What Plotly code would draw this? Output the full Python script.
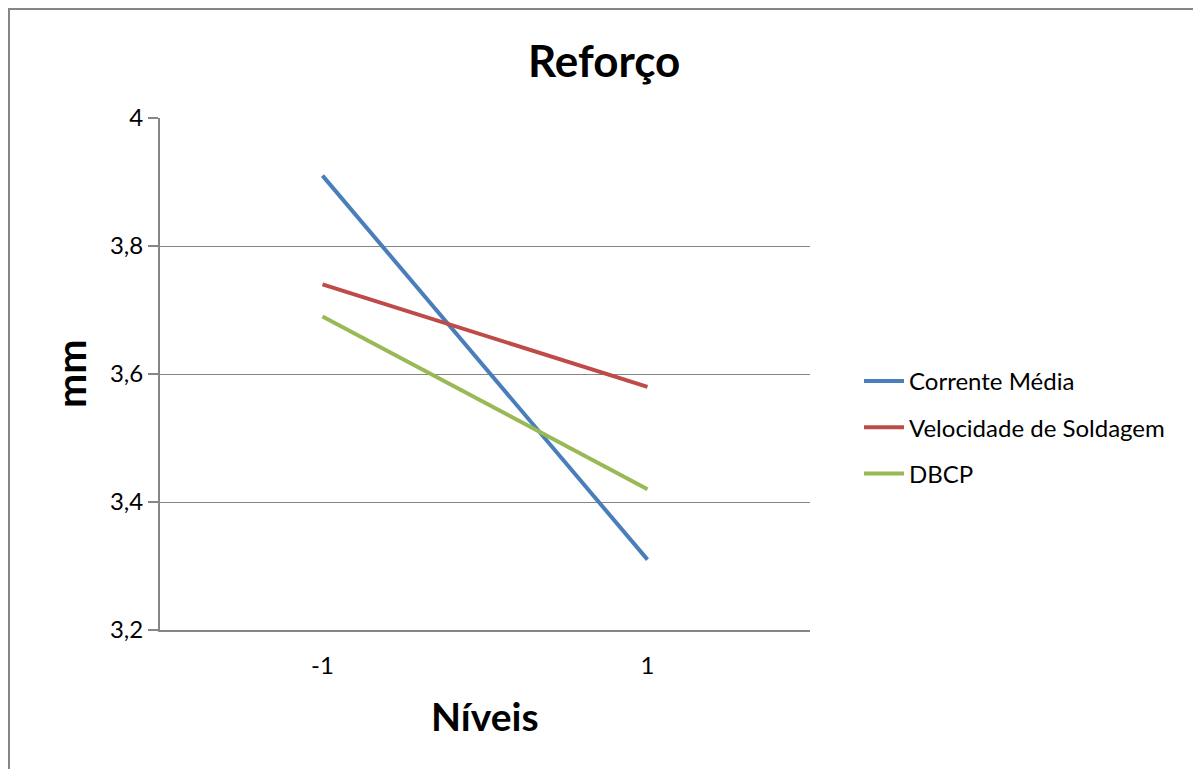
import plotly.graph_objects as go

categories = ["-1", "1"]
corrente_media = [3.91, 3.31]
velocidade_soldagem = [3.74, 3.58]
dbcp = [3.69, 3.42]
series_names = ["Corrente Média", "Velocidade de Soldagem", "DBCP"]
colors = ["#4A7EBB", "#BE4B48", "#98B954"]
y_ticks = [3.2, 3.4, 3.6, 3.8, 4.0]

FONT = "Lato, Open Sans, sans-serif"

fig = go.Figure()
for i, (name, vals) in enumerate(zip(series_names, [corrente_media, velocidade_soldagem, dbcp])):
    fig.add_trace(go.Scatter(
        x=categories, y=vals, mode="lines", name=name,
        line=dict(color=colors[i], width=4),
        legendgroup=f"g{i}",
    ))

# page body has an 8px margin; work in reference pixel coords and shift
OFF = 8
W, H = 1201 - OFF, 769 - OFF
PL, PR, PT, PB = 160 - OFF, 810 - OFF, 118 - OFF, 630 - OFF
L, R, T, B = PL, W - PR, PT, H - PB
pw, ph = PR - PL, PB - PT

def px_x(px):
    return (px - OFF - PL) / pw

def px_y(py):
    return (PB - (py - OFF)) / ph

fig.update_layout(
    width=W, height=H,
    margin=dict(l=L, r=R, t=T, b=B),
    paper_bgcolor="white", plot_bgcolor="white",
    separators=", ",
    font=dict(family=FONT, size=24, color="black"),
    showlegend=True,
    legend=dict(
        x=px_x(859), y=px_y(359), xanchor="left", yanchor="top",
        font=dict(family=FONT, size=24, color="black"),
        tracegroupgap=12, itemwidth=40,
        bgcolor="rgba(0,0,0,0)",
    ),
    xaxis=dict(
        type="category", range=[-0.5, 1.5],
        showgrid=False, showline=True, linecolor="#868686", linewidth=2,
        ticks="", tickfont=dict(family=FONT, size=24, color="black"),
        ticklabelstandoff=13,
        zeroline=False,
    ),
    yaxis=dict(
        range=[3.2, 4.0], tickvals=y_ticks,
        showgrid=True, gridcolor="#868686", gridwidth=1,
        showline=True, linecolor="#868686", linewidth=2,
        ticks="outside", ticklen=10, tickcolor="#868686", tickwidth=2,
        tickfont=dict(family=FONT, size=24, color="black"),
        zeroline=False,
    ),
    annotations=[
        dict(text="<b>Reforço</b>", x=px_x(604), y=px_y(60), xref="paper", yref="paper",
             xanchor="center", yanchor="middle",
             showarrow=False, font=dict(family=FONT, size=44, color="black")),
        dict(text="<b>Níveis</b>", x=px_x(485), y=px_y(716), xref="paper", yref="paper",
             xanchor="center", yanchor="middle",
             showarrow=False, font=dict(family=FONT, size=39, color="black")),
        dict(text="<b>mm</b>", x=px_x(70), y=px_y(374), xref="paper", yref="paper",
             xanchor="center", yanchor="middle",
             showarrow=False, textangle=-90, font=dict(family=FONT, size=41, color="black")),
    ],
    shapes=[
        dict(type="rect", xref="paper", yref="paper",
             x0=px_x(OFF + 1), x1=px_x(1200), y0=px_y(800), y1=px_y(OFF + 1),
             line=dict(color="#868686", width=2), fillcolor="rgba(0,0,0,0)", layer="below"),
    ],
)

fig.write_html("out.html")
